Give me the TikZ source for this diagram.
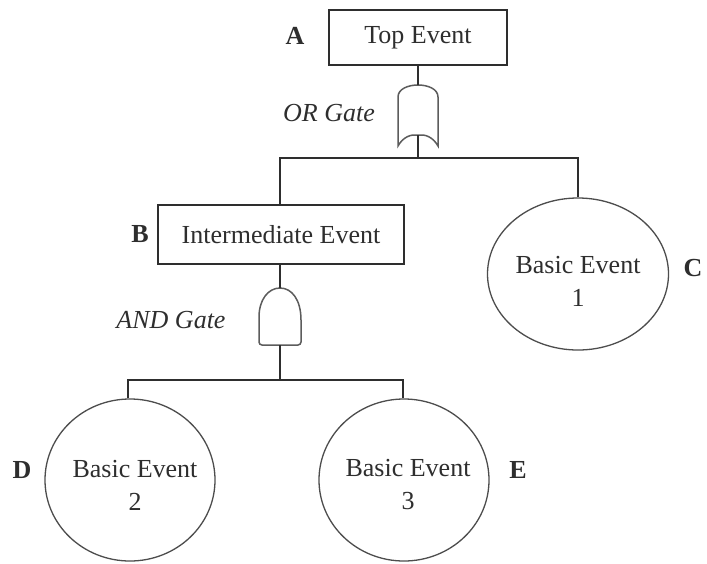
\documentclass[tikz,border=0pt]{standalone}
\usepackage{fontspec}
\setmainfont{Liberation Serif}
\usetikzlibrary{shapes.geometric}
\definecolor{ink}{HTML}{2E2E2E}
\definecolor{gateink}{HTML}{5C5C5C}
\newcommand{\evfont}{\fontsize{26}{33}\selectfont}
\begin{document}
\begin{tikzpicture}[x=1pt,y=-1pt,
  wire/.style={draw=ink, line width=1.7pt},
  gate/.style={draw=gateink, line width=1.5pt},
  eventbox/.style={draw=ink, line width=1.4pt, inner sep=0pt, font=\evfont, text=ink},
  basic/.style={ellipse, draw=ink!85, line width=1.3pt, inner sep=0pt,
                minimum width=170pt, minimum height=162pt},
  evtext/.style={align=center, font=\evfont, text=ink, inner sep=0pt},
  tag/.style={font=\evfont\bfseries, text=ink},
  gatetag/.style={font=\evfont\itshape, text=ink}]

\useasboundingbox[fill=white] (0,0) rectangle (707,563);

% events
\node[eventbox, minimum width=178pt, minimum height=55pt] (top) at (418,37.5) {Top Event};
\node[eventbox, minimum width=246pt, minimum height=59pt] (inter) at (281,234.5) {Intermediate Event};
\node[basic, minimum width=181pt, minimum height=152pt] (c1) at (578,274) {};
\node[evtext] (c1text) at (578,281) {Basic Event\\1};
\node[basic] (d2) at (130,480) {};
\node[evtext] (d2text) at (135,485) {Basic Event\\2};
\node[basic] (e3) at (404,480) {};
\node[evtext] (e3text) at (408,485) {Basic Event\\3};

% letter tags
\node[tag] (tagA) at (295,36) {A};
\node[tag] (tagB) at (140,234) {B};
\node[tag] (tagC) at (693,268) {C};
\node[tag] (tagD) at (22,470) {D};
\node[tag] (tagE) at (518,470) {E};

% gate tags
\node[gatetag] (ortag) at (329,113) {OR Gate};
\node[gatetag] (andtag) at (171,320) {AND Gate};

% gate terminals and junctions
\coordinate (orIn)  at (418,85);
\coordinate (orOut) at (418,135);
\coordinate (andIn) at (280,288);
\coordinate (andOut) at (280,345);
\coordinate (bar1) at (418,158);
\coordinate (bar2) at (280,380);

% OR gate
\draw[gate] (398,146) -- (398,97)
  .. controls (398,89) and (408,85) .. (orIn)
  .. controls (428,85) and (438,89) .. (438,97)
  -- (438,146)
  .. controls (433,137) and (425,134) .. (orOut)
  .. controls (411,134) and (403,137) .. (398,146) -- cycle;

% AND gate
\draw[gate] (259,320)
  .. controls (259,300) and (268,288) .. (andIn)
  .. controls (292,288) and (301,300) .. (301,320)
  [rounded corners=3pt] -- (301,345) -- (259,345) -- cycle;

% connectors
\draw[wire] (top.south) -- (orIn);
\draw[wire] (orOut) -- (bar1);
\draw[wire] (inter.north -| bar2) |- (bar1) -| (c1.north);
\draw[wire] (inter.south -| bar2) -- (andIn);
\draw[wire] (andOut) -- (bar2);
\draw[wire] (d2.north -| 128,0) |- (bar2) -| (e3.north -| 403,0);
\end{tikzpicture}
\end{document}
